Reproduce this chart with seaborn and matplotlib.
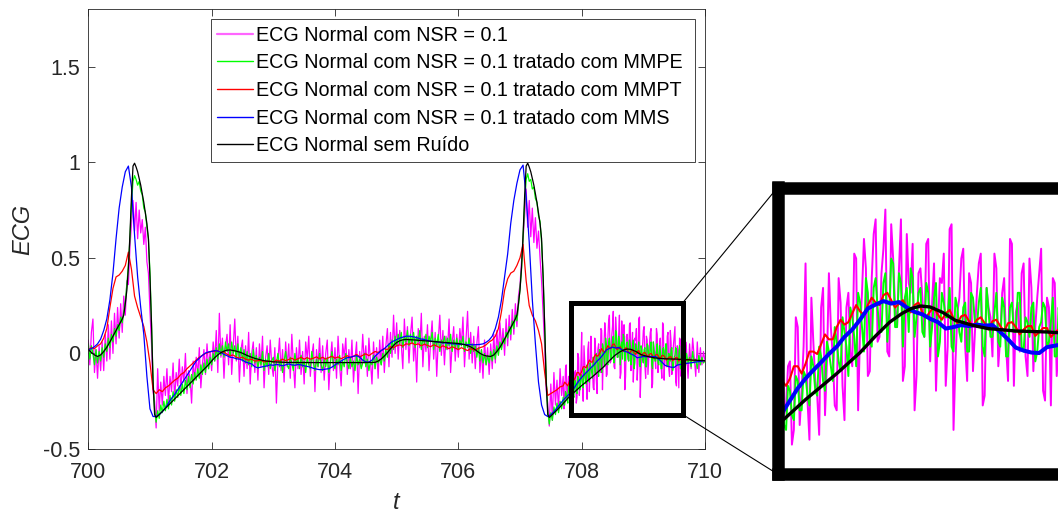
import numpy as np
import matplotlib
matplotlib.use("Agg")
import matplotlib.pyplot as plt
import seaborn as sns
from matplotlib.patches import Rectangle, ConnectionPatch
from matplotlib.lines import Line2D

# ---------------- data ----------------
T_START = 700.0
DT_NOISY = 0.025      # sampling of the noisy / MMPE series
DT_FILT = 0.05        # sampling of the MMPT / MMS series
T_DENSE_START = 707.7125   # extra samples read inside the zoomed window
T_DENSE_START_FILT = 707.725

# ECG Normal com NSR = 0.1 (magenta), regular grid
ecg_ruidoso = [
    0.07, -0.06, 0.11, 0.18, -0.10, 0.02, -0.13, 0.04, -0.09, 0.06,
    -0.09, 0.10, -0.04, 0.15, -0.03, 0.17, 0.00, 0.21, 0.05, 0.24,
    0.08, 0.26, 0.11, 0.30, 0.20, 0.38, 0.36, 0.55, 0.68, 0.80,
    0.64, 0.79, 0.60, 0.75, 0.63, 0.70, 0.57, 0.66, 0.48, 0.42,
    0.22, 0.05, -0.20, -0.25, -0.39, -0.08, -0.30, -0.15, -0.27, -0.12,
    -0.22, -0.08, -0.26, -0.12, -0.20, -0.05, -0.24, -0.10, -0.17, -0.03,
    -0.19, -0.07, -0.15, 0.00, -0.21, -0.09, -0.13, -0.26, -0.04, -0.14,
    -0.02, -0.12, 0.03, -0.18, -0.06, 0.02, -0.11, 0.05, -0.08, 0.01,
    -0.09, 0.06, -0.04, 0.12, -0.10, 0.21, -0.02, 0.08, -0.13, 0.04,
    0.10, -0.06, 0.15, -0.11, 0.03, 0.18, -0.04, 0.09, -0.15, 0.02,
    0.07, -0.12, 0.04, -0.08, 0.11, -0.16, 0.00, 0.06, -0.10, 0.03,
    -0.14, 0.05, -0.07, 0.09, -0.18, -0.02, 0.04, -0.11, 0.07, -0.06,
    -0.12, 0.03, -0.26, -0.04, 0.08, -0.09, 0.02, -0.15, 0.06, -0.07,
    0.05, -0.13, 0.10, -0.05, -0.18, 0.03, -0.08, 0.07, -0.11, 0.01,
    -0.16, 0.06, -0.03, 0.09, -0.12, -0.01, 0.05, -0.20, 0.02, -0.07,
    0.08, -0.10, 0.04, -0.14, 0.00, 0.07, -0.19, -0.04, 0.06, -0.09,
    0.03, -0.13, 0.09, -0.06, -0.17, 0.05, -0.02, 0.08, -0.11, 0.02,
    -0.08, 0.07, -0.15, -0.03, 0.06, -0.21, 0.01, -0.07, 0.10, -0.05,
    0.04, -0.12, 0.08, -0.04, -0.16, 0.06, -0.08, 0.03, -0.13, 0.07,
    -0.06, 0.09, -0.10, 0.04, 0.13, -0.07, 0.11, -0.02, 0.20, 0.00,
    0.16, -0.03, 0.12, 0.05, -0.08, 0.18, 0.02, 0.14, -0.05, 0.10,
    0.19, -0.04, 0.08, -0.15, 0.13, 0.03, 0.21, -0.07, 0.09, 0.01,
    0.15, -0.09, 0.06, 0.17, -0.03, 0.11, -0.12, 0.07, 0.20, -0.01,
    0.12, -0.06, 0.09, 0.02, 0.18, -0.10, 0.05, 0.14, -0.04, 0.10,
    -0.02, 0.13, 0.04, 0.19, -0.07, 0.08, 0.22, -0.03, 0.11, -0.05,
    0.09, -0.08, 0.05, 0.14, -0.10, 0.02, -0.13, 0.07, -0.06, 0.03,
    -0.11, 0.05, -0.08, 0.10, -0.05, 0.12, 0.00, 0.16, 0.03, 0.13,
    -0.01, 0.18, 0.04, 0.20, 0.07, 0.23, 0.10, 0.26, 0.14, 0.30,
    0.36, 0.48, 0.60, 0.72, 0.86, 0.66, 0.80, 0.61, 0.76, 0.58,
    0.71, 0.55, 0.64, 0.50, 0.38, 0.21, 0.04, -0.19, -0.26, -0.38,
    -0.16, -0.35, -0.10, -0.27, -0.14, -0.30, -0.08, -0.22, -0.12, -0.25,
    -0.06, -0.21, -0.13, -0.28, -0.04, -0.18, -0.09, -0.23, -0.02, -0.15,
    0.11, -0.25, -0.05, -0.16, 0.02, -0.20, 0.09, -0.08, -0.19, 0.03,
    -0.21, 0.05, -0.10, 0.12, -0.03, 0.16, -0.12, 0.08, 0.20, -0.04,
    0.14, -0.07, 0.19, 0.02, 0.10, -0.13, 0.17, 0.05, -0.19, 0.09,
    0.04, 0.15, -0.09, 0.11, -0.02, 0.07, -0.14, 0.18, -0.23, 0.01,
    0.12, -0.06, 0.09, -0.11, 0.05, 0.13, -0.16, 0.02, -0.08, 0.10,
    -0.04, 0.08, -0.13, 0.15, 0.01, -0.07, 0.11, -0.12, 0.06, -0.02,
    0.09, -0.15, 0.04, -0.18, 0.07, -0.05, 0.10, -0.09, 0.02, -0.13,
    0.05, -0.08, 0.08, -0.02, -0.12, 0.06, -0.10, 0.03, -0.06, 0.01, -0.04,
]
# magenta, extra samples between grid points inside the zoomed window
ecg_ruidoso_extra = [
    -0.29, -0.08, -0.24, -0.12, -0.31, -0.05, -0.20, -0.10, -0.26, 0.00,
    -0.22, -0.06, -0.17, 0.04, -0.13, -0.24, 0.06, -0.09, -0.02, -0.18,
    0.08, -0.14, 0.02, -0.07, 0.13, -0.19, 0.05, 0.10, -0.11, 0.17,
    -0.05, 0.09, 0.22, -0.08, 0.12, -0.02, 0.20, -0.10, 0.07, 0.15,
    -0.12, 0.10, -0.04, 0.16, 0.03, -0.15, 0.08, 0.13, -0.06, 0.19,
    -0.09, 0.04, 0.14, -0.13, 0.07, -0.03, 0.11, -0.18, 0.06, 0.00,
    0.13, -0.10, 0.05, -0.06, 0.16, -0.14, 0.03, 0.09, -0.08, 0.12,
    -0.11, 0.04, 0.14, -0.17, 0.02, 0.08, -0.12, 0.11, -0.05, 0.06,
]

# ECG ... tratado com MMPE (green), regular grid
ecg_mmpe = [
    0.05, -0.03, 0.04, 0.00, -0.06, 0.02, -0.05, 0.01, -0.04, 0.03,
    -0.02, 0.05, 0.01, 0.08, 0.03, 0.10, 0.06, 0.13, 0.09, 0.15,
    0.12, 0.19, 0.16, 0.22, 0.27, 0.36, 0.46, 0.60, 0.78, 0.90,
    0.93, 0.91, 0.88, 0.90, 0.85, 0.83, 0.76, 0.74, 0.66, 0.60,
    0.42, 0.16, -0.14, -0.29, -0.36, -0.30, -0.34, -0.27, -0.31, -0.25,
    -0.30, -0.24, -0.29, -0.22, -0.27, -0.20, -0.25, -0.19, -0.23, -0.17,
    -0.22, -0.16, -0.21, -0.14, -0.19, -0.12, -0.18, -0.11, -0.16, -0.10,
    -0.14, -0.08, -0.13, -0.06, -0.11, -0.05, -0.10, -0.03, -0.08, -0.02,
    -0.06, 0.00, -0.04, 0.03, -0.03, 0.05, -0.01, 0.04, -0.02, 0.06,
    0.01, 0.05, -0.02, 0.06, 0.00, 0.04, -0.03, 0.05, -0.02, 0.03,
    -0.04, 0.02, -0.05, 0.01, -0.06, 0.00, -0.07, 0.02, -0.05, -0.01,
    -0.08, -0.02, -0.06, 0.01, -0.09, -0.03, -0.07, 0.00, -0.08, -0.04,
    -0.02, -0.09, -0.05, 0.00, -0.07, -0.03, -0.10, -0.04, 0.01, -0.06,
    -0.08, -0.02, -0.05, -0.09, 0.00, -0.06, -0.03, -0.08, -0.01, -0.07,
    -0.04, -0.10, -0.02, -0.06, -0.08, 0.01, -0.05, -0.09, -0.03, -0.07,
    0.00, -0.06, -0.09, -0.03, -0.07, -0.02, -0.10, -0.05, 0.01, -0.06,
    -0.08, -0.03, -0.06, -0.01, -0.09, -0.04, -0.07, 0.00, -0.05, -0.08,
    -0.02, -0.07, -0.04, -0.09, -0.01, -0.06, -0.03, -0.08, -0.05, 0.00,
    -0.07, -0.03, -0.09, -0.04, -0.06, -0.01, -0.08, -0.02, -0.05, -0.03,
    -0.06, 0.00, -0.04, 0.02, -0.02, 0.05, 0.00, 0.07, 0.02, 0.09,
    0.04, 0.10, 0.05, 0.11, 0.03, 0.09, 0.06, 0.12, 0.04, 0.10,
    0.05, 0.11, 0.03, 0.09, 0.06, 0.12, 0.02, 0.08, 0.05, 0.10,
    0.03, 0.09, 0.06, 0.11, 0.02, 0.08, 0.04, 0.10, 0.01, 0.07,
    0.05, 0.09, 0.02, 0.08, 0.04, 0.10, 0.01, 0.07, 0.03, 0.08,
    0.02, 0.07, 0.04, 0.09, 0.01, 0.06, 0.03, 0.08, 0.00, 0.05,
    0.01, 0.04, -0.02, 0.03, -0.04, 0.02, -0.05, 0.00, -0.06, -0.01,
    -0.05, 0.01, -0.04, 0.02, -0.03, 0.04, -0.01, 0.06, 0.02, 0.08,
    0.05, 0.11, 0.08, 0.14, 0.10, 0.17, 0.13, 0.20, 0.17, 0.25,
    0.34, 0.44, 0.61, 0.78, 0.91, 0.94, 0.90, 0.91, 0.86, 0.87,
    0.81, 0.79, 0.72, 0.69, 0.58, 0.41, 0.14, -0.13, -0.30, -0.37,
    -0.31, -0.35, -0.28, -0.32, -0.26, -0.31, -0.25, -0.29, -0.23, -0.27,
    -0.21, -0.26, -0.19, -0.25, -0.17, -0.23, -0.15, -0.21, -0.13, -0.19,
    -0.12, -0.18, -0.10, -0.16, -0.08, -0.15, -0.07, -0.13, -0.05, -0.11,
    -0.03, -0.12, 0.00, -0.10, 0.03, -0.07, 0.05, -0.06, 0.08, -0.03,
    0.07, -0.05, 0.12, -0.02, 0.09, -0.06, 0.06, 0.10, -0.04, 0.05,
    -0.03, 0.07, -0.06, 0.04, -0.08, 0.05, 0.00, 0.06, -0.07, 0.02,
    -0.05, 0.03, -0.07, 0.04, -0.02, 0.06, -0.08, 0.01, -0.04, 0.05,
    -0.06, 0.02, -0.08, 0.03, -0.03, 0.05, -0.07, -0.01, 0.02, -0.09,
    -0.02, 0.03, -0.06, -0.01, -0.08, 0.02, -0.04, -0.07, 0.00, -0.05,
    -0.02, -0.07, 0.01, -0.05, -0.03, -0.08, -0.01, -0.06, -0.02, -0.05, -0.04,
]
# green, extra samples inside the zoomed window
ecg_mmpe_extra = [
    -0.27, -0.20, -0.24, -0.17, -0.25, -0.15, -0.22, -0.14, -0.20, -0.12,
    -0.19, -0.11, -0.16, -0.08, -0.15, -0.06, -0.13, -0.05, -0.10, -0.02,
    -0.09, 0.00, -0.06, 0.02, -0.04, 0.05, -0.02, 0.08, -0.05, 0.06,
    0.02, -0.03, 0.09, 0.01, 0.11, -0.02, 0.07, 0.04, -0.03, 0.08,
    0.00, 0.06, -0.04, 0.05, -0.02, 0.07, -0.05, 0.03, 0.00, -0.06,
    0.04, -0.03, 0.02, -0.07, 0.05, -0.01, 0.03, -0.06, 0.06, -0.04,
    0.01, -0.05, 0.04, -0.08, 0.02, -0.03, 0.05, -0.06, 0.00, -0.04,
    0.03, -0.07, -0.01, 0.02, -0.05, 0.04, -0.08, -0.02, 0.01, -0.06,
]

# ECG ... tratado com MMPT (red), regular grid
ecg_mmpt = [
    0.02, 0.03, 0.025, 0.04, 0.05, 0.08, 0.13, 0.24, 0.34, 0.40,
    0.41, 0.43, 0.46, 0.53, 0.44, 0.30, 0.24, 0.19, 0.14, 0.06,
    -0.05, -0.19, -0.21, -0.19, -0.20, -0.18, -0.17, -0.155, -0.14, -0.13,
    -0.11, -0.10, -0.08, -0.065, -0.05, -0.035, -0.02, -0.01, 0.00, 0.005,
    0.012, 0.010, 0.015, 0.005, 0.008, -0.005, -0.012, -0.008, -0.02, -0.025,
    -0.02, -0.03, -0.035, -0.03, -0.04, -0.038, -0.036, -0.045, -0.042, -0.04,
    -0.045, -0.035, -0.04, -0.03, -0.038, -0.032, -0.025, -0.035, -0.028, -0.02,
    -0.03, -0.022, -0.03, -0.025, -0.018, -0.028, -0.02, -0.03, -0.022, -0.015,
    -0.025, -0.018, -0.028, -0.02, -0.012, -0.022, -0.015, -0.005, -0.018, -0.01,
    -0.002, -0.012, 0.0, 0.01, 0.005, 0.015, 0.025, 0.02, 0.035, 0.03,
    0.04, 0.045, 0.038, 0.05, 0.048, 0.055, 0.045, 0.05, 0.04, 0.048,
    0.042, 0.035, 0.045, 0.038, 0.03, 0.04, 0.032, 0.025, 0.035, 0.028,
    0.02, 0.03, 0.022, 0.015, 0.025, 0.018, 0.022, 0.03, 0.035, 0.045,
    0.06, 0.07, 0.09, 0.13, 0.22, 0.33, 0.39, 0.42, 0.43, 0.46,
    0.50, 0.57, 0.38, 0.25, 0.20, 0.17, 0.12, 0.05, -0.10, -0.22,
    -0.21, -0.20, -0.19, -0.175, -0.17, -0.16, -0.148, -0.13, -0.125, -0.10,
    -0.095, -0.07, -0.055, -0.045, -0.02, -0.015, 0.008, 0.012, 0.025, 0.03,
    0.045, 0.035, 0.028, 0.02, 0.025, 0.01, 0.012, 0.005, 0.008, -0.002,
    0.002, -0.008, -0.005, -0.012, -0.008, -0.018, -0.012, -0.02, -0.025, -0.018,
    -0.03, -0.022, -0.032, -0.028, -0.035, -0.03, -0.038, -0.035, -0.04, -0.036, -0.04,
]
# red, extra samples inside the zoomed window
ecg_mmpt_extra = [
    -0.150, -0.170, -0.125, -0.140, -0.100, -0.115, -0.070, -0.075, -0.035, -0.045,
    -0.005, -0.010, 0.025, 0.005, 0.040, 0.025, 0.050, 0.020, 0.035, 0.010,
    0.030, 0.000, 0.020, -0.005, 0.015, -0.012, 0.005, -0.018, 0.000, -0.025,
    -0.005, -0.028, -0.010, -0.035, -0.018, -0.038, -0.022, -0.040, -0.025,
]

# ECG ... tratado com MMS (blue)
ecg_mms = [
    0.02, 0.025, 0.035, 0.05, 0.075, 0.12, 0.18, 0.28, 0.42, 0.60,
    0.76, 0.87, 0.95, 0.98, 0.87, 0.62, 0.40, 0.24, 0.10, -0.12,
    -0.29, -0.33, -0.33, -0.32, -0.305, -0.285, -0.26, -0.235, -0.215, -0.19,
    -0.165, -0.14, -0.115, -0.09, -0.065, -0.04, -0.025, -0.01, 0.002, 0.008,
    0.01, 0.015, 0.012, 0.005, -0.005, -0.012, -0.02, -0.022, -0.028, -0.03,
    -0.035, -0.045, -0.05, -0.055, -0.07, -0.075, -0.072, -0.068, -0.065, -0.06,
    -0.062, -0.058, -0.06, -0.065, -0.06, -0.055, -0.06, -0.062, -0.058, -0.06,
    -0.065, -0.068, -0.072, -0.078, -0.082, -0.085, -0.085, -0.082, -0.08, -0.072,
    -0.06, -0.05, -0.04, -0.03, -0.022, -0.02, -0.015, -0.012, -0.02, -0.035,
    -0.045, -0.045, -0.035, -0.015, 0.0, 0.015, 0.025, 0.04, 0.055, 0.065,
    0.072, 0.08, 0.085, 0.09, 0.09, 0.088, 0.085, 0.08, 0.075, 0.072,
    0.068, 0.065, 0.062, 0.06, 0.058, 0.055, 0.055, 0.052, 0.05, 0.05,
    0.048, 0.048, 0.047, 0.046, 0.046, 0.045, 0.046, 0.047, 0.05, 0.058,
    0.07, 0.09, 0.13, 0.19, 0.28, 0.40, 0.52, 0.68, 0.80, 0.89,
    0.96, 0.985, 0.82, 0.58, 0.28, 0.05, -0.15, -0.27, -0.32, -0.33,
    -0.32, -0.305, -0.285, -0.265, -0.245, -0.228, -0.212, -0.195, -0.17, -0.145,
    -0.125, -0.108, -0.092, -0.075, -0.06, -0.04, -0.025, -0.005, 0.018, 0.026,
    0.033, 0.028, 0.031, 0.02, 0.011, 0.006, -0.003, -0.01, -0.023, -0.02,
    -0.016, -0.018, -0.015, -0.017, -0.016, -0.03, -0.045, -0.062, -0.068, -0.072,
    -0.073, -0.061, -0.058, -0.055, -0.052, -0.05, -0.048, -0.045, -0.043, -0.04, -0.038,
]

# ECG Normal sem Ruido (black) - sample times and values
t_limpo = [
    700.000, 700.050, 700.100, 700.150, 700.200, 700.250, 700.300, 700.350,
    700.400, 700.450, 700.500, 700.550, 700.575, 700.600, 700.625, 700.650,
    700.675, 700.700, 700.725, 700.750, 700.775, 700.800, 700.850, 700.900,
    700.950, 700.975, 701.000, 701.025, 701.050, 701.075, 701.100, 701.150,
    701.500, 701.800, 701.950, 702.000, 702.050, 702.100, 702.150, 702.200,
    702.250, 702.300, 702.350, 702.400, 702.450, 702.500, 702.550, 702.600,
    702.650, 702.700, 702.750, 702.800, 702.850, 702.900, 703.000, 703.200,
    703.600, 704.000, 704.400, 704.650, 704.700, 704.750, 704.800, 704.850,
    704.900, 704.950, 705.000, 705.050, 705.100, 705.150, 705.200, 705.300,
    705.450, 705.600, 705.800, 706.000, 706.100, 706.150, 706.200, 706.250,
    706.300, 706.350, 706.400, 706.450, 706.525, 706.575, 706.625, 706.675,
    706.725, 706.775, 706.825, 706.875, 706.925, 706.950, 706.975, 707.000,
    707.025, 707.050, 707.075, 707.100, 707.125, 707.150, 707.175, 707.225,
    707.275, 707.325, 707.350, 707.375, 707.400, 707.425, 707.450, 707.475,
    707.525, 707.650, 707.800, 708.000, 708.200, 708.350, 708.450, 708.540,
    708.620, 708.680, 708.740, 708.800, 708.880, 708.960, 709.080, 709.170,
    709.350, 709.550, 709.800, 710.000,
]
ecg_limpo = [
    0.020, 0.005, -0.008, -0.016, -0.008, 0.010, 0.032, 0.060,
    0.090, 0.120, 0.150, 0.180, 0.200, 0.260, 0.330, 0.450,
    0.620, 0.820, 0.980, 0.995, 0.975, 0.950, 0.880, 0.790,
    0.680, 0.600, 0.400, 0.150, -0.150, -0.320, -0.335, -0.320,
    -0.206, -0.108, -0.059, -0.040, -0.022, -0.008, 0.004, 0.012,
    0.017, 0.018, 0.015, 0.012, 0.007, 0.001, -0.007, -0.014,
    -0.020, -0.026, -0.030, -0.034, -0.038, -0.040, -0.044, -0.047,
    -0.048, -0.048, -0.048, -0.047, -0.040, -0.029, -0.014, 0.004,
    0.024, 0.042, 0.057, 0.066, 0.071, 0.073, 0.072, 0.070,
    0.066, 0.062, 0.057, 0.052, 0.046, 0.041, 0.034, 0.025,
    0.013, 0.001, -0.008, -0.013, -0.016, -0.008, 0.010, 0.032,
    0.060, 0.090, 0.120, 0.150, 0.180, 0.200, 0.260, 0.330,
    0.450, 0.620, 0.820, 0.980, 0.995, 0.975, 0.950, 0.880,
    0.790, 0.680, 0.600, 0.400, 0.150, -0.150, -0.320, -0.335,
    -0.320, -0.280, -0.226, -0.168, -0.115, -0.072, -0.038, -0.010,
    0.008, 0.018, 0.023, 0.021, 0.010, -0.006, -0.017, -0.023,
    -0.028, -0.030, -0.035, -0.038,
]

series_labels = [
    "ECG Normal com NSR = 0.1",
    "ECG Normal com NSR = 0.1 tratado com MMPE",
    "ECG Normal com NSR = 0.1 tratado com MMPT",
    "ECG Normal com NSR = 0.1 tratado com MMS",
    "ECG Normal sem Ruído",
]
series_colors = ["#FF00FF", "#00FF00", "#FF0000", "#0000FF", "#000000"]

x_ticks = [700, 702, 704, 706, 708, 710]
y_ticks = [-0.5, 0, 0.5, 1, 1.5]
y_tick_labels = ["-0.5", "0", "0.5", "1", "1.5"]
x_limits = (700, 710)
y_limits = (-0.5, 1.8)
zoom_x = (707.82, 709.64)
zoom_y = (-0.32, 0.265)


def merged(t_a, y_a, t_b, y_b):
    """Combine the regular samples with the extra samples, ordered by time."""
    t = np.concatenate([t_a, t_b])
    y = np.concatenate([y_a, y_b])
    order = np.argsort(t, kind="stable")
    return t[order], y[order]


t_noisy = T_START + DT_NOISY * np.arange(len(ecg_ruidoso))
t_noisy_extra = T_DENSE_START + DT_NOISY * np.arange(len(ecg_ruidoso_extra))
t_filt = T_START + DT_FILT * np.arange(len(ecg_mmpt))
t_filt_extra = T_DENSE_START_FILT + DT_FILT * np.arange(len(ecg_mmpt_extra))

series = [
    merged(t_noisy, ecg_ruidoso, t_noisy_extra, ecg_ruidoso_extra),
    merged(t_noisy, ecg_mmpe, t_noisy_extra, ecg_mmpe_extra),
    merged(t_filt, ecg_mmpt, t_filt_extra, ecg_mmpt_extra),
    (t_filt, np.array(ecg_mms)),
    (np.array(t_limpo), np.array(ecg_limpo)),
]

# ---------------- figure ----------------
sns.set_theme(style="white")
plt.rcParams["font.family"] = ["Liberation Sans", "DejaVu Sans"]

W, H = 1058, 513
fig = plt.figure(figsize=(W / 100, H / 100), dpi=100)


def fx(px):
    return px / W


def fy(py):
    return 1 - py / H


ax = fig.add_axes([fx(88.3), fy(449), fx(705) - fx(88.3), fy(9.3) - fy(449)])
axins = fig.add_axes([fx(777.5), fy(474), fx(1061) - fx(777.5), fy(187.5) - fy(474)])

main_lw = [0.9, 0.9, 0.9, 0.9, 0.9]
ins_lw = [1.4, 1.4, 1.5, 2.9, 2.4]

for (tt, yy), c, lw1, lw2 in zip(series, series_colors, main_lw, ins_lw):
    sns.lineplot(x=tt, y=yy, ax=ax, color=c, linewidth=lw1,
                 estimator=None, sort=False, legend=False)
    sns.lineplot(x=tt, y=yy, ax=axins, color=c, linewidth=lw2,
                 estimator=None, sort=False, legend=False)

# main axes styling
axis_col = "#262626"
ax.set_xlim(*x_limits)
ax.set_ylim(*y_limits)
ax.set_xticks(x_ticks)
ax.set_xticklabels([str(v) for v in x_ticks])
ax.set_yticks(y_ticks)
ax.set_yticklabels(y_tick_labels)
ax.tick_params(axis="both", direction="in", length=4.7, width=0.6,
               colors=axis_col, labelsize=15.5, top=True, right=True,
               bottom=True, left=True)
ax.tick_params(axis="x", pad=9)
ax.tick_params(axis="y", pad=6)
for s in ax.spines.values():
    s.set_visible(True)
    s.set_color(axis_col)
    s.set_linewidth(0.6)
ax.set_xlabel("t", fontstyle="italic", fontsize=17, color=axis_col, labelpad=6)
ax.set_ylabel("ECG", fontstyle="italic", fontsize=17, color=axis_col, labelpad=6)

# zoom rectangle
rect = Rectangle((zoom_x[0], zoom_y[0]), zoom_x[1] - zoom_x[0], zoom_y[1] - zoom_y[0],
                 fill=False, edgecolor="black", linewidth=3.6, joinstyle="miter",
                 zorder=5)
ax.add_patch(rect)

# inset
axins.set_xlim(*zoom_x)
axins.set_ylim(*zoom_y)
axins.set_xticks([])
axins.set_yticks([])
axins.set_xlabel("")
axins.set_ylabel("")
for s in axins.spines.values():
    s.set_visible(True)
    s.set_color("black")
    s.set_linewidth(9)
    s.set_capstyle("projecting")

for ya, yb in [(zoom_y[1], 1), (zoom_y[0], 0)]:
    con = ConnectionPatch(xyA=(zoom_x[1], ya), coordsA=ax.transData,
                          xyB=(0, yb), coordsB=axins.transAxes,
                          color="black", linewidth=0.8)
    fig.add_artist(con)

# legend
handles = [Line2D([], [], color=c, linewidth=1.0) for c in series_colors]
handles[0].set_linewidth(1.6)
handles[0].set_alpha(0.6)
leg = ax.legend(handles, series_labels, loc="upper left",
                bbox_to_anchor=(fx(210.7), fy(19.3), fx(695) - fx(210.7), 0.0),
                bbox_transform=fig.transFigure, mode="expand",
                fontsize=14.2, frameon=True, fancybox=False, shadow=False,
                edgecolor=axis_col, framealpha=1, borderpad=0.32,
                labelspacing=0.44, handlelength=1.8, handletextpad=0.2,
                borderaxespad=0)
leg.get_frame().set_linewidth(0.6)
for txt in leg.get_texts():
    txt.set_color("black")

fig.savefig("out.png", dpi=100)
